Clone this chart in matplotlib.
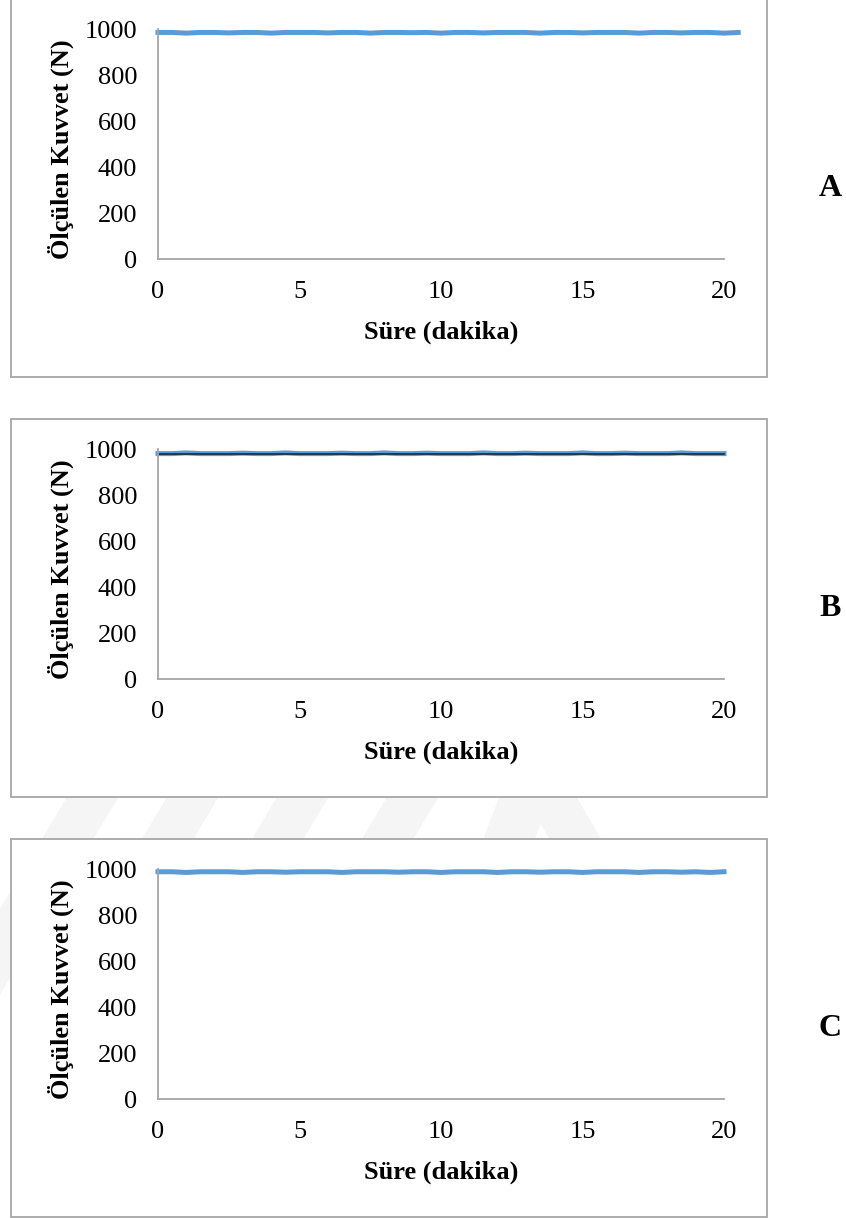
import matplotlib.pyplot as plt
from matplotlib.patches import Rectangle, Polygon

# data
minutes = [0, 0.5, 1, 1.5, 2, 2.5, 3, 3.5, 4, 4.5, 5, 5.5, 6, 6.5, 7, 7.5, 8, 8.5, 9, 9.5,
           10, 10.5, 11, 11.5, 12, 12.5, 13, 13.5, 14, 14.5, 15, 15.5, 16, 16.5, 17, 17.5,
           18, 18.5, 19, 19.5, 20]
minutes_a = minutes + [20.5]
force_a = [985, 985, 982, 985, 985, 983, 985, 985, 982, 985, 985, 985, 983, 985, 985, 982,
           985, 985, 984, 985, 982, 985, 985, 983, 985, 985, 985, 982, 985, 985, 983, 985,
           985, 985, 982, 985, 985, 983, 985, 985, 982, 985]
force_b = [980, 980, 983, 980, 980, 980, 982, 980, 980, 983, 980, 980, 980, 982, 980, 980,
           983, 980, 980, 982, 980, 980, 980, 983, 980, 980, 982, 980, 980, 980, 983, 980,
           980, 982, 980, 980, 980, 983, 980, 980, 980]
trend_t = [0, 20]
trend_b = [980, 980]
force_c = [988, 988, 985, 988, 988, 988, 985, 988, 988, 986, 988, 988, 988, 985, 988, 988,
           988, 986, 988, 988, 985, 988, 988, 988, 985, 988, 988, 986, 988, 988, 985, 988,
           988, 988, 985, 988, 988, 986, 988, 985, 988]
panels = ["A", "B", "C"]
x_ticks = [0, 5, 10, 15, 20]
y_ticks = [0, 200, 400, 600, 800, 1000]

W, H = 846, 1218
fig = plt.figure(figsize=(W / 100, H / 100), dpi=100)
fig.patch.set_facecolor("white")
serif = "Liberation Serif"
blue = "#5b9bd5"
grey = "#a6a6a6"


def fx(px):
    return px / W


def fy(py):
    return 1 - py / H


# faint watermark behind the chart boxes
wm = "#f5f5f5"
for xc in [-60, 40, 150, 260]:
    pts = [(xc, 1010), (xc + 50, 1010), (xc + 50 + 330, 460), (xc + 330, 460)]
    fig.patches.append(Polygon([(fx(a), fy(b)) for a, b in pts], closed=True,
                               transform=fig.transFigure, color=wm, zorder=-3))
legs = [[(420, 1010), (470, 1010), (560, 770), (510, 770)],
        [(510, 770), (560, 770), (700, 1010), (650, 1010)]]
for leg in legs:
    fig.patches.append(Polygon([(fx(a), fy(b)) for a, b in leg], closed=True,
                               transform=fig.transFigure, color=wm, zorder=-3))

series = [(minutes_a, force_a, None), (minutes, force_b, trend_b), (minutes, force_c, None)]
for k, (t, vals, trend) in enumerate(series):
    oy = 420 * k
    # chart area border
    fig.patches.append(Rectangle((fx(11), fy(377 + oy)), fx(767) - fx(11), 378 / H,
                                 transform=fig.transFigure, facecolor="white",
                                 edgecolor=grey, lw=1.3, zorder=-1))
    ax = fig.add_axes([fx(158), fy(259 + oy), fx(724) - fx(158), 230 / H])
    ax.set_facecolor("none")
    ax.plot(t, vals, color=blue, lw=3.6, clip_on=False)
    if trend is not None:
        ax.plot(trend_t, trend, color="#1c2833", lw=1.2, clip_on=False)
    ax.set_xlim(0, 20)
    ax.set_ylim(0, 1000)
    ax.set_xticks(x_ticks)
    ax.set_yticks(y_ticks)
    for s in ["top", "right"]:
        ax.spines[s].set_visible(False)
    for s in ["left", "bottom"]:
        ax.spines[s].set_color(grey)
        ax.spines[s].set_linewidth(1.3)
    ax.tick_params(axis="both", length=0, labelsize=19)
    ax.tick_params(axis="x", pad=16)
    ax.tick_params(axis="y", pad=15)
    for lab in ax.get_xticklabels() + ax.get_yticklabels():
        lab.set_fontfamily(serif)
    fig.text(fx(441), fy(332 + oy), "Süre (dakika)", ha="center", va="center",
             fontsize=19, fontweight="bold", family=serif)
    fig.text(fx(61), fy(149 + oy), "Ölçülen Kuvvet (N)", ha="center", va="center",
             rotation=90, fontsize=19, fontweight="bold", family=serif)
    fig.text(fx(830), fy(189 + oy), panels[k], ha="center", va="center",
             fontsize=23, fontweight="bold", family=serif)

fig.savefig("out.png", dpi=100)
